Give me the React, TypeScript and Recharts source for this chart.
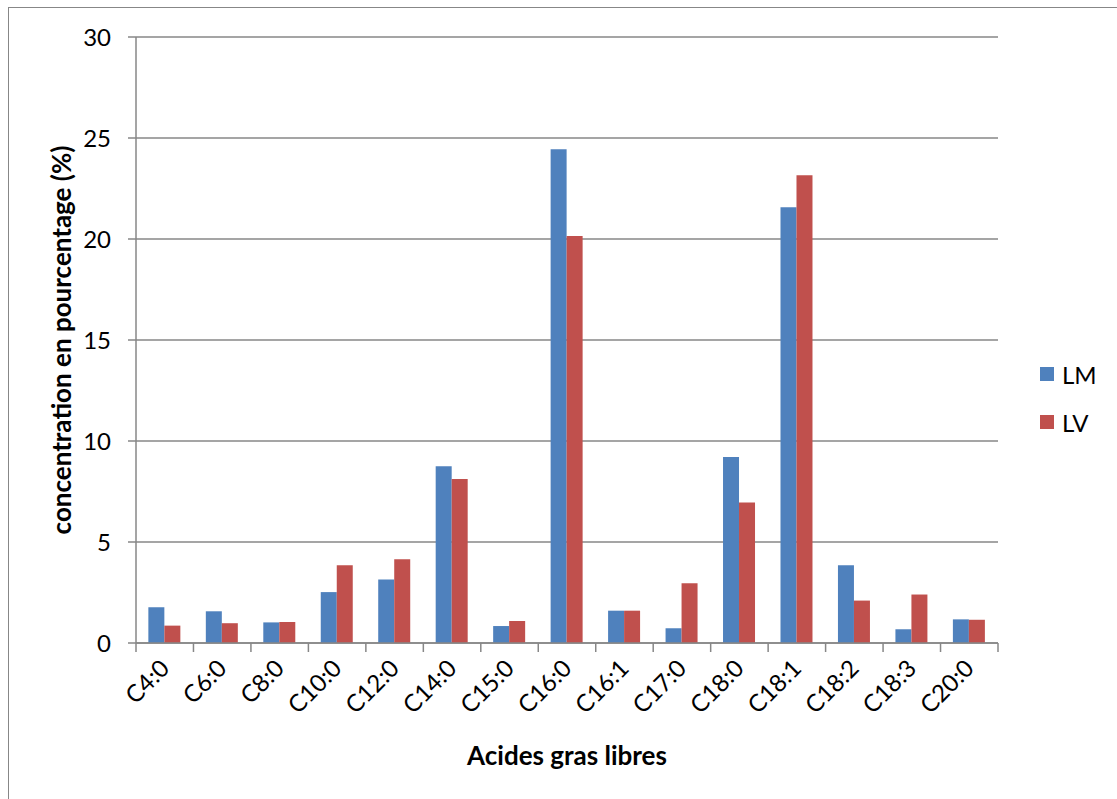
import React from 'react';
import { BarChart, Bar, XAxis, YAxis, CartesianGrid } from 'recharts';

const categories = ['C4:0', 'C6:0', 'C8:0', 'C10:0', 'C12:0', 'C14:0', 'C15:0', 'C16:0', 'C16:1', 'C17:0', 'C18:0', 'C18:1', 'C18:2', 'C18:3', 'C20:0'];
const lmValues = [1.77, 1.57, 1.02, 2.52, 3.14, 8.75, 0.84, 24.44, 1.6, 0.73, 9.21, 21.57, 3.85, 0.68, 1.17];
const lvValues = [0.86, 0.98, 1.04, 3.85, 4.14, 8.12, 1.09, 20.15, 1.6, 2.96, 6.95, 23.15, 2.1, 2.4, 1.15];
const yTicks = [0, 5, 10, 15, 20, 25, 30];
const seriesNames = ['LM', 'LV'];
const seriesColors = ['#4F81BD', '#C0504D'];

const W = 1117;
const H = 799;
const Y_AXIS_W = 136;
const RIGHT = 119;
const BAND = (W - Y_AXIS_W - RIGHT) / categories.length;
const FONT = 'Lato, "Open Sans", sans-serif';
const GREY = '#878787';

const data = categories.map((name, i) => ({ name, LM: lmValues[i], LV: lvValues[i] }));

const CategoryTick = (props: any) => {
    const { x, y, payload, index } = props;
    const last = index === categories.length - 1;
    const tx = x + 6;
    const ty = y + 18;
    return (
        <g>
            <line x1={x - BAND / 2} x2={x - BAND / 2} y1={y - 9} y2={y} stroke={GREY} strokeWidth={1.5} />
            {last && <line x1={x + BAND / 2} x2={x + BAND / 2} y1={y - 9} y2={y} stroke={GREY} strokeWidth={1.5} />}
            <text x={tx} y={ty} textAnchor="end" transform={`rotate(-45, ${tx}, ${ty})`} fontSize={24} fontFamily={FONT} fill="#000">
                {payload.value}
            </text>
        </g>
    );
};

const YTitle = () => (
    <text x={61} y={340} textAnchor="middle" dominantBaseline="central" transform="rotate(-90, 61, 340)" fontFamily={FONT} fontSize={26} fontWeight={700} fill="#000">
        concentration en pourcentage (%)
    </text>
);

const XTitle = () => (
    <text x={567} y={755} textAnchor="middle" dominantBaseline="central" fontFamily={FONT} fontSize={26} fontWeight={700} fill="#000">
        Acides gras libres
    </text>
);

export default function App() {
    return (
        <div style={{ position: 'fixed', left: 0, top: 0, width: W, height: H, overflow: 'hidden', background: '#fff' }}>
            <div style={{ position: 'absolute', left: 8, top: 7, width: 3000, height: 3000, borderLeft: `1.5px solid ${GREY}`, borderTop: `1.5px solid ${GREY}` }} />
            <div style={{ position: 'absolute', left: 0, top: 0 }}>
                <BarChart width={W} height={H} data={data} margin={{ top: 37, right: RIGHT, bottom: 36, left: 0 }} barCategoryGap="21.5%" barGap={0}>
                    <CartesianGrid vertical={false} stroke={GREY} strokeWidth={1.5} />
                    <XAxis
                        dataKey="name"
                        height={120}
                        interval={0}
                        axisLine={{ stroke: GREY, strokeWidth: 1.5 }}
                        tickLine={false}
                        tickSize={9}
                        tickMargin={0}
                        tick={<CategoryTick />}
                        label={{ content: () => <XTitle /> }}
                    />
                    <YAxis
                        width={Y_AXIS_W}
                        domain={[0, 30]}
                        ticks={yTicks}
                        interval={0}
                        axisLine={{ stroke: GREY, strokeWidth: 1.5 }}
                        tickLine={{ stroke: GREY, strokeWidth: 1.5 }}
                        tickSize={8}
                        tickMargin={17}
                        tick={{ fontFamily: FONT, fontSize: 24, fill: '#000' }}
                        label={{ content: () => <YTitle /> }}
                    />
                    {seriesNames.map((s, i) => (
                        <Bar key={s} dataKey={s} fill={seriesColors[i]} isAnimationActive={false} />
                    ))}
                </BarChart>
            </div>
            <div style={{ position: 'absolute', left: 1040, top: 359, fontFamily: FONT, fontSize: 24, color: '#000' }}>
                {seriesNames.map((s, i) => (
                    <div key={s} style={{ display: 'flex', alignItems: 'center', height: 30, marginBottom: 18 }}>
                        <span style={{ display: 'inline-block', width: 14, height: 14, background: seriesColors[i], marginRight: 8 }} />
                        <span>{s}</span>
                    </div>
                ))}
            </div>
        </div>
    );
}
